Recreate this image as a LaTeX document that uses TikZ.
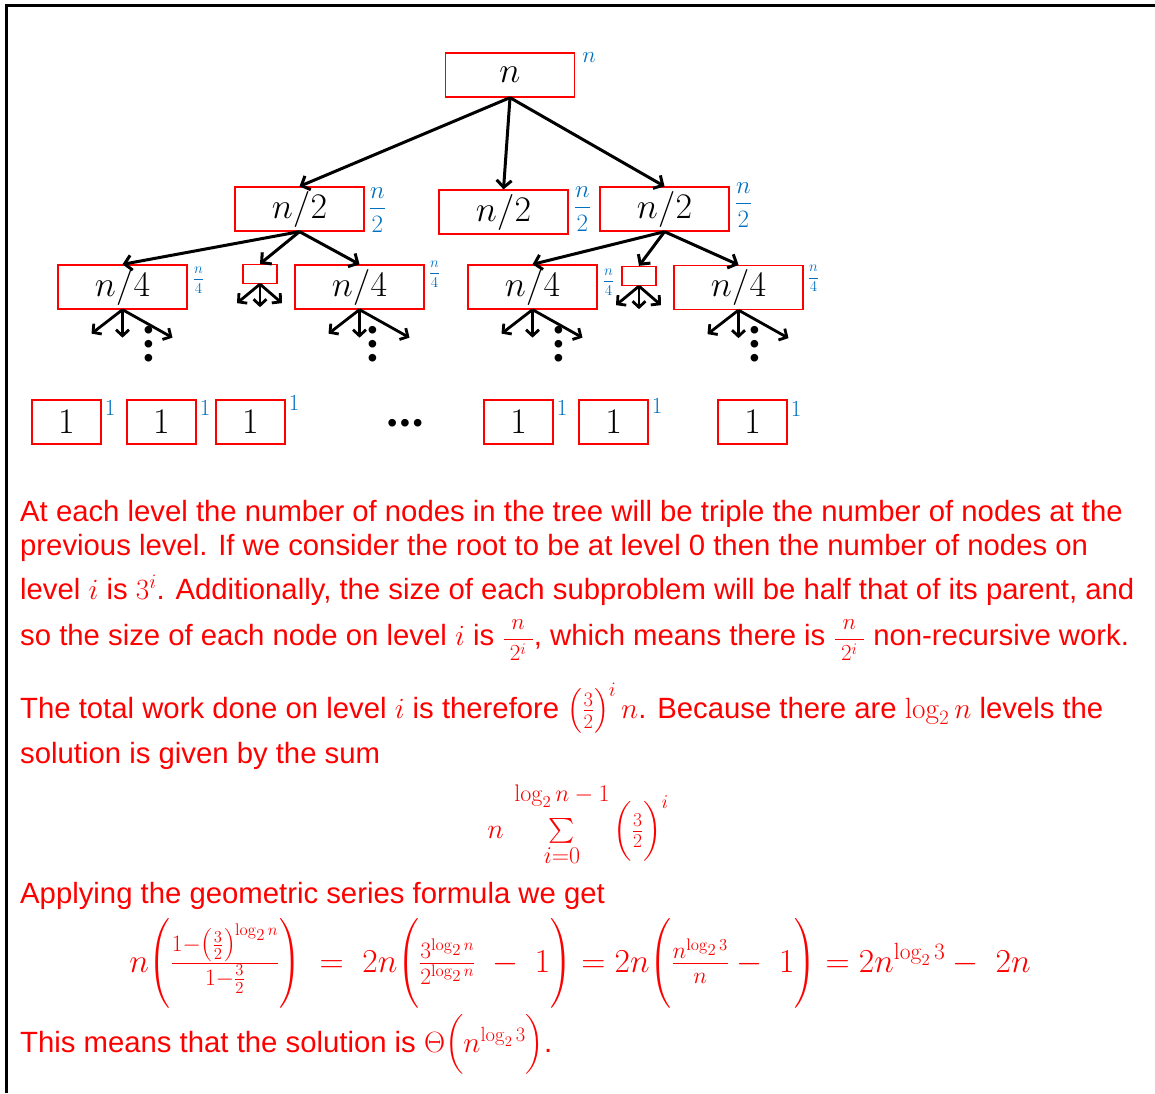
\RequirePackage{fix-cm}
\documentclass[tikz,border=0pt]{standalone}
\usepackage{amsmath}
\usepackage[no-math]{fontspec}
\setmainfont{Liberation Sans}
\usetikzlibrary{positioning,arrows.meta}
\definecolor{ink}{RGB}{0,0,0}
\definecolor{boxred}{RGB}{255,0,0}
\definecolor{workblue}{RGB}{0,112,192}
\newcommand{\infrac}[2]{{\fontsize{23}{23}\selectfont$\dfrac{#1}{\;#2\;}$}}
\newcommand{\limsize}[1]{\mbox{\fontsize{24}{24}\selectfont$#1$}}
\tikzset{
  box/.style={draw=boxred, line width=1.3pt, minimum width=129pt, minimum height=44pt,
    inner sep=0pt, text=ink, font=\fontsize{36}{40}\selectfont},
  onebox/.style={box, minimum width=69pt},
  tinybox/.style={draw=boxred, line width=1.3pt, minimum width=34pt, minimum height=19pt,
    inner sep=0pt},
  work/.style={text=workblue, inner sep=0pt, font=\fontsize{23}{25}\selectfont},
  halfwork/.style={work, font=\fontsize{25}{27}\selectfont},
  quartwork/.style={work, font=\fontsize{15}{16}\selectfont},
  treeedge/.style={-{Straight Barb[length=7pt,width=15pt]}, line width=3pt, draw=ink},
  fan/.style={-{Straight Barb[length=6pt,width=13pt]}, line width=2.8pt, draw=ink},
  vdotsnode/.style={inner sep=0pt, align=center, text=ink, font=\fontsize{28}{14}\selectfont},
  para/.style={text=boxred, inner sep=0pt, anchor=base west, font=\fontsize{29.3}{34}\selectfont},
  eqn/.style={text=boxred, inner sep=0pt, anchor=base, font=\fontsize{33.5}{38}\selectfont},
  frame/.style={line width=3pt, draw=ink},
}

\begin{document}
\begin{tikzpicture}[x=1pt, y=-1pt]
  \useasboundingbox (0,0) rectangle (1155,1093);
  \draw[frame] (6,1093) -- (6,5) -- (1155,5);

  % recursion tree
  \node[box] (root) at (510,75) {$n$};
  \node[box] (h1) at (299.5,209) {$n/2$};
  \node[box] (h2) at (503.5,212) {$n/2$};
  \node[box] (h3) at (664.5,209) {$n/2$};
  \node[box] (q1) at (122.5,287) {$n/4$};
  \node[tinybox] (s1) at (260,274) {};
  \node[box] (q2) at (359.5,287) {$n/4$};
  \node[box] (q3) at (532.5,287) {$n/4$};
  \node[tinybox] (s2) at (639,276) {};
  \node[box] (q4) at (738.5,287.5) {$n/4$};

  \node[work, right=7pt of root.north east, anchor=north west] (rootw) {$n$};
  \node[halfwork, right=4pt of h1.north east, anchor=north west, yshift=-1pt] (h1w) {$\dfrac{n}{2}$};
  \node[halfwork, right=5pt of h2.north east, anchor=north west, yshift=3pt] (h2w) {$\dfrac{n}{2}$};
  \node[halfwork, right=5pt of h3.north east, anchor=north west, yshift=4pt] (h3w) {$\dfrac{n}{2}$};
  \node[quartwork, right=5pt of q1.north east, anchor=north west, yshift=-2pt] (q1w) {$\dfrac{n}{4}$};
  \node[quartwork, right=4pt of q2.north east, anchor=north west, yshift=4pt] (q2w) {$\dfrac{n}{4}$};
  \node[quartwork, right=5pt of q3.north east, anchor=north west, yshift=-4pt] (q3w) {$\dfrac{n}{4}$};
  \node[quartwork, right=4pt of q4.north east, anchor=north west] (q4w) {$\dfrac{n}{4}$};

  \draw[treeedge] (root.south) -- (h1.north);
  \draw[treeedge] (root.south) -- (h2.north);
  \draw[treeedge] (root.south) -- (h3.north);
  \draw[treeedge] (h1.south) -- (q1.north);
  \draw[treeedge] (h1.south) -- (s1.north);
  \draw[treeedge] (h1.south) -- (q2.north);
  \draw[treeedge] (h3.south) -- (q3.north);
  \draw[treeedge] (h3.south) -- (s2.north);
  \draw[treeedge] (h3.south) -- (q4.north);

  % three children below every leaf shown
  \foreach \q/\dx in {q1/26,q2/13,q3/26,q4/16} {
    \coordinate (\q-l) at ([shift={(-31,24)}]\q.south);
    \coordinate (\q-d) at ([shift={(0,28)}]\q.south);
    \coordinate (\q-r) at ([shift={(50,28)}]\q.south);
    \draw[fan] (\q.south) -- (\q-l);
    \draw[fan] (\q.south) -- (\q-d);
    \draw[fan] (\q.south) -- (\q-r);
    \node[vdotsnode] (\q-dots) at ([shift={(\dx,37)}]\q.south) {\textbullet\\\textbullet\\\textbullet};
  }
  \foreach \s in {s1,s2} {
    \coordinate (\s-l) at ([shift={(-23,19)}]\s.south);
    \coordinate (\s-d) at ([shift={(0,23)}]\s.south);
    \coordinate (\s-r) at ([shift={(22,19)}]\s.south);
    \draw[fan] (\s.south) -- (\s-l);
    \draw[fan] (\s.south) -- (\s-d);
    \draw[fan] (\s.south) -- (\s-r);
  }

  % base cases
  \foreach \x/\nm/\dy in {66.5/o1/-1,161.5/o2/-1,250.5/o3/4,518.5/o4/-1,613.5/o5/1,752.5/o6/-2} {
    \node[onebox] (\nm) at (\x,422) {$1$};
    \node[work, right=3pt of \nm.north east, anchor=north west, yshift=\dy pt] (\nm w) {$1$};
  }
  \node[inner sep=0pt, text=ink, font=\fontsize{28}{28}\selectfont] (more) at (405,426)
    {\textbullet\hspace{3pt}\textbullet\hspace{3pt}\textbullet};

  % explanation
  \node[para] (p1) at (20,521) {At each level the number of nodes in the tree will be triple the number of nodes at the};
  \node[para] (p2) at (20,555) {previous level. If we consider the root to be at level 0 then the number of nodes on};
  \node[para] (p3) at (20,599) {level $i$ is $3^{i}$. Additionally, the size of each subproblem will be half that of its parent, and};
  \node[para] (p4) at (20,645) {so the size of each node on level $i$ is \infrac{n}{2^{i}}, which means there is \infrac{n}{2^{i}} non-recursive work.};
  \node[para] (p5) at (20,718) {The total work done on level $i$ is therefore $\left(\frac{3}{2}\right)^{i} n$. Because there are $\log_2 n$ levels the};
  \node[para] (p6) at (20,763) {solution is given by the sum};
  \node[eqn, font=\fontsize{28}{32}\selectfont] (sum) at (578,838)
    {$n\hspace{6pt}\sum\limits_{\limsize{i{=}0}}^{\limsize{\log_2 n-1}\rule[-14pt]{0pt}{14pt}}\hspace{4pt}\Bigl(\frac{3}{2}\Bigr)^{i}$};
  \node[para] (p7) at (20,903) {Applying the geometric series formula we get};
  \node[eqn] (series) at (580,972)
    {$n\biggl(\frac{1-\left(\frac{3}{2}\right)^{\log_2 n}}{1-\frac{3}{2}}\biggr)
      \;=\;2n\biggl(\frac{3^{\log_2 n}}{2^{\log_2 n}}\;-\;1\biggr)
      = 2n\biggl(\frac{n^{\log_2 3}}{n}-\;1\biggr)
      = 2n^{\log_2 3}-\;2n$};
  \node[para] (p8) at (20,1052) {This means that the solution is $\Theta\Bigl(n^{\log_2 3}\Bigr)$.};
\end{tikzpicture}
\end{document}
